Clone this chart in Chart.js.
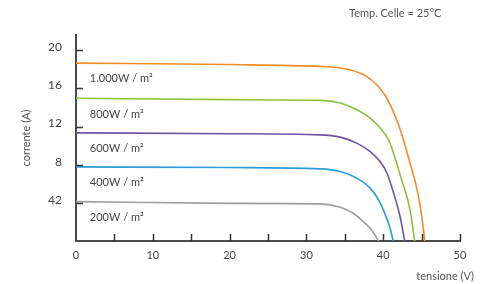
<!DOCTYPE html>
<html>
<head>
<meta charset="utf-8">
<script src="https://cdn.jsdelivr.net/npm/chart.js@4"></script>
<style>
html,body{margin:0;padding:0;background:#fff;}
#wrap{width:489px;height:284px;position:relative;}
</style>
</head>
<body>
<div id="wrap"><canvas id="c" width="489" height="284"></canvas></div>
<script>
// Data (tensione V, corrente A)
const seriesLabels = ["1.000W / m²", "800W / m²", "600W / m²", "400W / m²", "200W / m²"];
const seriesColors = ["#F28C28", "#8DC13F", "#6E55A5", "#2C9DD8", "#9E9E9E"];

const v1000 = [0, 20, 31.8, 34.0, 36.1, 37.85, 39.15, 40.2, 41.1, 42.0, 43.5, 44.6, 45.2, 45.4];
const i1000 = [18.65, 18.5, 18.31, 18.2, 17.86, 17.26, 16.39, 15.34, 13.94, 12.18, 8.16, 4.65, 1.5, 0];

const v800 = [0, 20, 31.8, 34.4, 36.55, 38.3, 39.6, 40.7, 41.2, 42.4, 43.5, 44.1];
const i800 = [14.97, 14.82, 14.74, 14.46, 13.76, 12.89, 11.84, 10.61, 9.56, 6.41, 3.26, 0];

const v600 = [0, 20, 31.8, 34.4, 36.55, 38.3, 39.6, 40.5, 41.3, 42.2, 42.8];
const i600 = [11.34, 11.25, 11.13, 10.89, 10.26, 9.38, 8.33, 7.11, 5.18, 2.55, 0];

const v400 = [0, 20, 31.8, 34.4, 36.55, 38.3, 39.4, 40.2, 40.9, 41.3];
const i400 = [7.77, 7.7, 7.56, 7.28, 6.59, 5.54, 4.31, 2.91, 1.33, 0];

const v200 = [0, 20, 31.8, 34.4, 36.1, 37.4, 38.5, 39.4];
const i200 = [4.13, 3.95, 3.89, 3.54, 2.91, 2.03, 1.16, 0];

const xTickMarks = [5, 10, 15, 20, 25, 30, 35, 40, 45, 50];
const yTickValues = [4, 8, 12, 16, 20];
const yTickLabels = {4: "42", 8: "8", 12: "12", 16: "16", 20: "20"};

const titleText = "Temp. Celle = 25°C";
const xTitleText = "tensione (V)";
const yTitleText = "corrente (A)";

const FONT = "Lato, 'Open Sans', sans-serif";

function pts(vs, is) { return vs.map((v, k) => ({x: v, y: is[k]})); }
const curves = [pts(v1000, i1000), pts(v800, i800), pts(v600, i600), pts(v400, i400), pts(v200, i200)];

const datasets = curves.map((d, k) => ({
  label: seriesLabels[k],
  data: d,
  borderColor: seriesColors[k],
  backgroundColor: seriesColors[k],
  borderWidth: 1.6,
  pointRadius: 0,
  fill: false,
  cubicInterpolationMode: 'monotone'
}));

const extras = {
  id: 'extras',
  afterDraw(chart) {
    const ctx = chart.ctx;
    const xs = chart.scales.x, ys = chart.scales.y;
    const ca = chart.chartArea;
    ctx.save();
    // inside tick marks
    ctx.strokeStyle = '#333';
    ctx.lineWidth = 1.5;
    ctx.beginPath();
    xTickMarks.forEach(v => {
      const px = Math.round(xs.getPixelForValue(v)) + 0.5;
      ctx.moveTo(px, ca.bottom);
      ctx.lineTo(px, ca.bottom - 7);
    });
    yTickValues.forEach(v => {
      const py = Math.round(ys.getPixelForValue(v)) + 0.5;
      ctx.moveTo(ca.left, py);
      ctx.lineTo(ca.left + 7, py);
    });
    ctx.stroke();
    // series labels
    ctx.fillStyle = '#444';
    ctx.font = "11px " + FONT;
    ctx.textAlign = 'left';
    ctx.textBaseline = 'middle';
    curves.forEach((d, k) => {
      const px = xs.getPixelForValue(1.8);
      const py = ys.getPixelForValue(d[0].y - 1.65);
      ctx.fillText(seriesLabels[k], px, py);
    });
    // titles
    ctx.fillStyle = '#555';
    ctx.textAlign = 'right';
    ctx.fillText(xTitleText, 474, 276);
    ctx.textAlign = 'left';
    ctx.fillText(titleText, 349, 13);
    ctx.restore();
  }
};

new Chart(document.getElementById('c'), {
  type: 'line',
  data: { datasets },
  options: {
    responsive: false,
    animation: false,
    layout: { padding: { top: 35, left: 0, right: 29, bottom: 0 } },
    plugins: { legend: { display: false }, tooltip: { enabled: false }, title: { display: false } },
    scales: {
      x: {
        type: 'linear',
        min: 0, max: 50,
        afterFit(s) { s.height = 43; },
        grid: { display: false, drawTicks: false },
        border: { display: true, color: '#4a4a4a', width: 2 },
        ticks: { stepSize: 10, padding: 8, color: '#444', font: { family: FONT, size: 11 } }
      },
      y: {
        type: 'linear',
        min: 0, max: 21.6,
        afterFit(s) { s.width = 76; },
        afterBuildTicks(s) { s.ticks = yTickValues.map(v => ({ value: v })); },
        grid: { display: false, drawTicks: false },
        border: { display: true, color: '#4a4a4a', width: 2 },
        ticks: {
          padding: 14, color: '#444', labelOffset: -3,
          font: { family: FONT, size: 12 },
          callback: (v) => yTickLabels[v] !== undefined ? yTickLabels[v] : ''
        },
        title: { display: true, text: yTitleText, color: '#555', font: { family: FONT, size: 11 }, padding: { top: 20, bottom: 0 } }
      }
    }
  },
  plugins: [extras]
});
</script>
</body>
</html>
